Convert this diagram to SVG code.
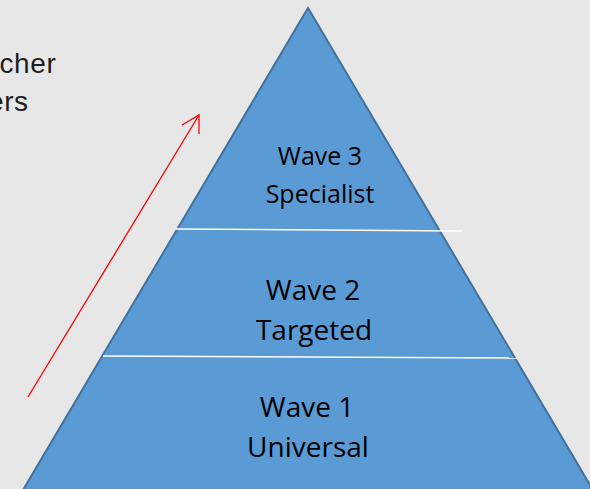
<svg xmlns="http://www.w3.org/2000/svg" width="590" height="489" viewBox="0 0 590 489">
  <style>
    .label { font-family: "Open Sans", "Liberation Sans", sans-serif; fill: #000000; text-anchor: middle; }
    .side { font-family: "Liberation Sans", Arial, sans-serif; font-size: 28px; fill: #1e1e1e; letter-spacing: 0.6px; }
    .divider { stroke: #ffffff; stroke-width: 1.5; }
    .arrow { stroke: #ff0000; stroke-width: 1.3; fill: none; }
  </style>
  <rect x="0" y="0" width="590" height="489" fill="#e7e7e7"/>

  <!-- side caption, running in from the left edge -->
  <g id="caption">
    <text class="side" x="-0.5" y="73">cher</text>
    <text class="side" x="-12" y="111">ers</text>
  </g>

  <!-- pyramid body -->
  <g id="pyramid">
    <polygon points="308,8 23,490 593,490" fill="#5b9bd5" stroke="#41719c" stroke-width="2" stroke-linejoin="miter"/>
  </g>

  <g id="connectors">
    <line class="divider" x1="176" y1="229" x2="462" y2="231"/>
    <line class="divider" x1="103" y1="356" x2="517" y2="358"/>
    <path class="arrow" d="M28,397 L199,115"/>
    <path class="arrow" d="M182,125 L199,115 L199,134"/>
  </g>

  <g id="wave3">
    <text class="label" x="320" y="165" font-size="25">Wave 3</text>
    <text class="label" x="320" y="203" font-size="25">Specialist</text>
  </g>
  <g id="wave2">
    <text class="label" x="313" y="300" font-size="28">Wave 2</text>
    <text class="label" x="314" y="340" font-size="28">Targeted</text>
  </g>
  <g id="wave1">
    <text class="label" x="307" y="417" font-size="28">Wave 1</text>
    <text class="label" x="308" y="457" font-size="28">Universal</text>
  </g>
</svg>
